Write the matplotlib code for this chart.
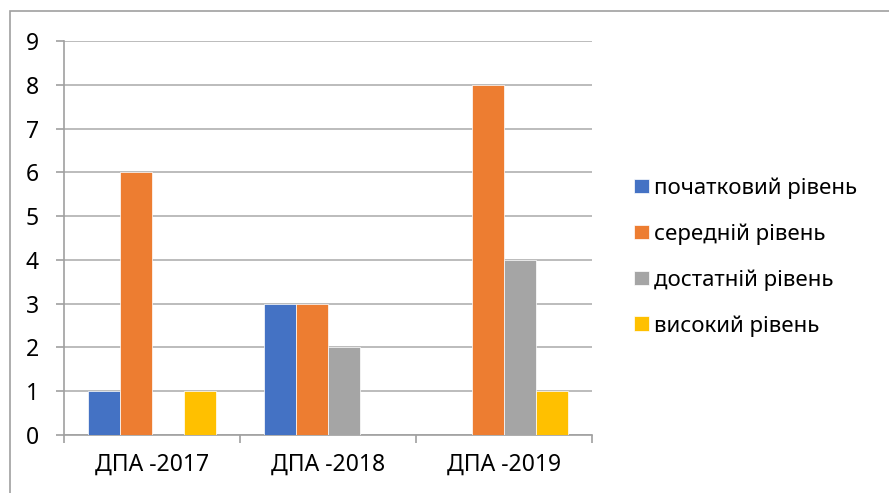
import matplotlib
matplotlib.use("Agg")
import matplotlib.pyplot as plt
from matplotlib.patches import Rectangle
import numpy as np

categories = ["ДПА -2017", "ДПА -2018", "ДПА -2019"]
series_names = ["початковий рівень", "середній рівень", "достатній рівень", "високий рівень"]
pochatkovyi = [1, 3, 0]
serednii = [6, 3, 8]
dostatnii = [0, 2, 4]
vysokyi = [1, 0, 1]
colors = ["#4472C4", "#ED7D31", "#A5A5A5", "#FFC000"]

plt.rcParams['font.family'] = ['Noto Sans', 'DejaVu Sans']
fs = 16.5

W, H = 889, 493
fig = plt.figure(figsize=(W / 100, H / 100), dpi=100)
ax = fig.add_axes([64 / W, 1 - 435 / H, (592 - 64) / W, (435 - 41) / H])

# outer chart frame (only top and left edges visible)
fig.patches.append(Rectangle((9.5 / W, -0.1), 1.2, 1.1 - 11.5 / H, transform=fig.transFigure,
                             fill=False, edgecolor="#A0A0A0", linewidth=1.2))

x = np.arange(len(categories))
w = 0.182
all_series = [pochatkovyi, serednii, dostatnii, vysokyi]
for i, (vals, name) in enumerate(zip(all_series, series_names)):
    ax.bar(x + (i - 1.5) * w, vals, width=w, color=colors[i], label=name,
           edgecolor="white", linewidth=0.5, zorder=3)

ax.set_xlim(-0.5, 2.5)
ax.set_ylim(0, 9)
ax.set_yticks(range(0, 10))
ax.set_xticks([-0.5, 0.5, 1.5, 2.5], minor=False)
ax.set_xticklabels([])
ax.set_xticks(x, minor=True)
ax.set_xticklabels(categories, minor=True, fontsize=fs)
ax.tick_params(axis="x", which="minor", length=0, pad=13)
ax.tick_params(axis="x", which="major", direction="out", length=6, color="#A0A0A0", width=1.2)
ax.tick_params(axis="y", direction="out", length=6, color="#A0A0A0", width=1.2, labelsize=fs, pad=12)

ax.grid(axis="y", color="#B0B0B0", linewidth=1.2, zorder=0)
for s in ["top", "right"]:
    ax.spines[s].set_visible(False)
for s in ["left", "bottom"]:
    ax.spines[s].set_color("#A0A0A0")
    ax.spines[s].set_linewidth(1.2)

ax.legend(loc="center left", bbox_to_anchor=(623 / W, 1 - 257 / H), bbox_transform=fig.transFigure,
          frameon=False, fontsize=16, handlelength=0.65, handleheight=0.65, handletextpad=0.25,
          labelspacing=1.1, borderpad=0)

fig.savefig("out.png", dpi=100)
